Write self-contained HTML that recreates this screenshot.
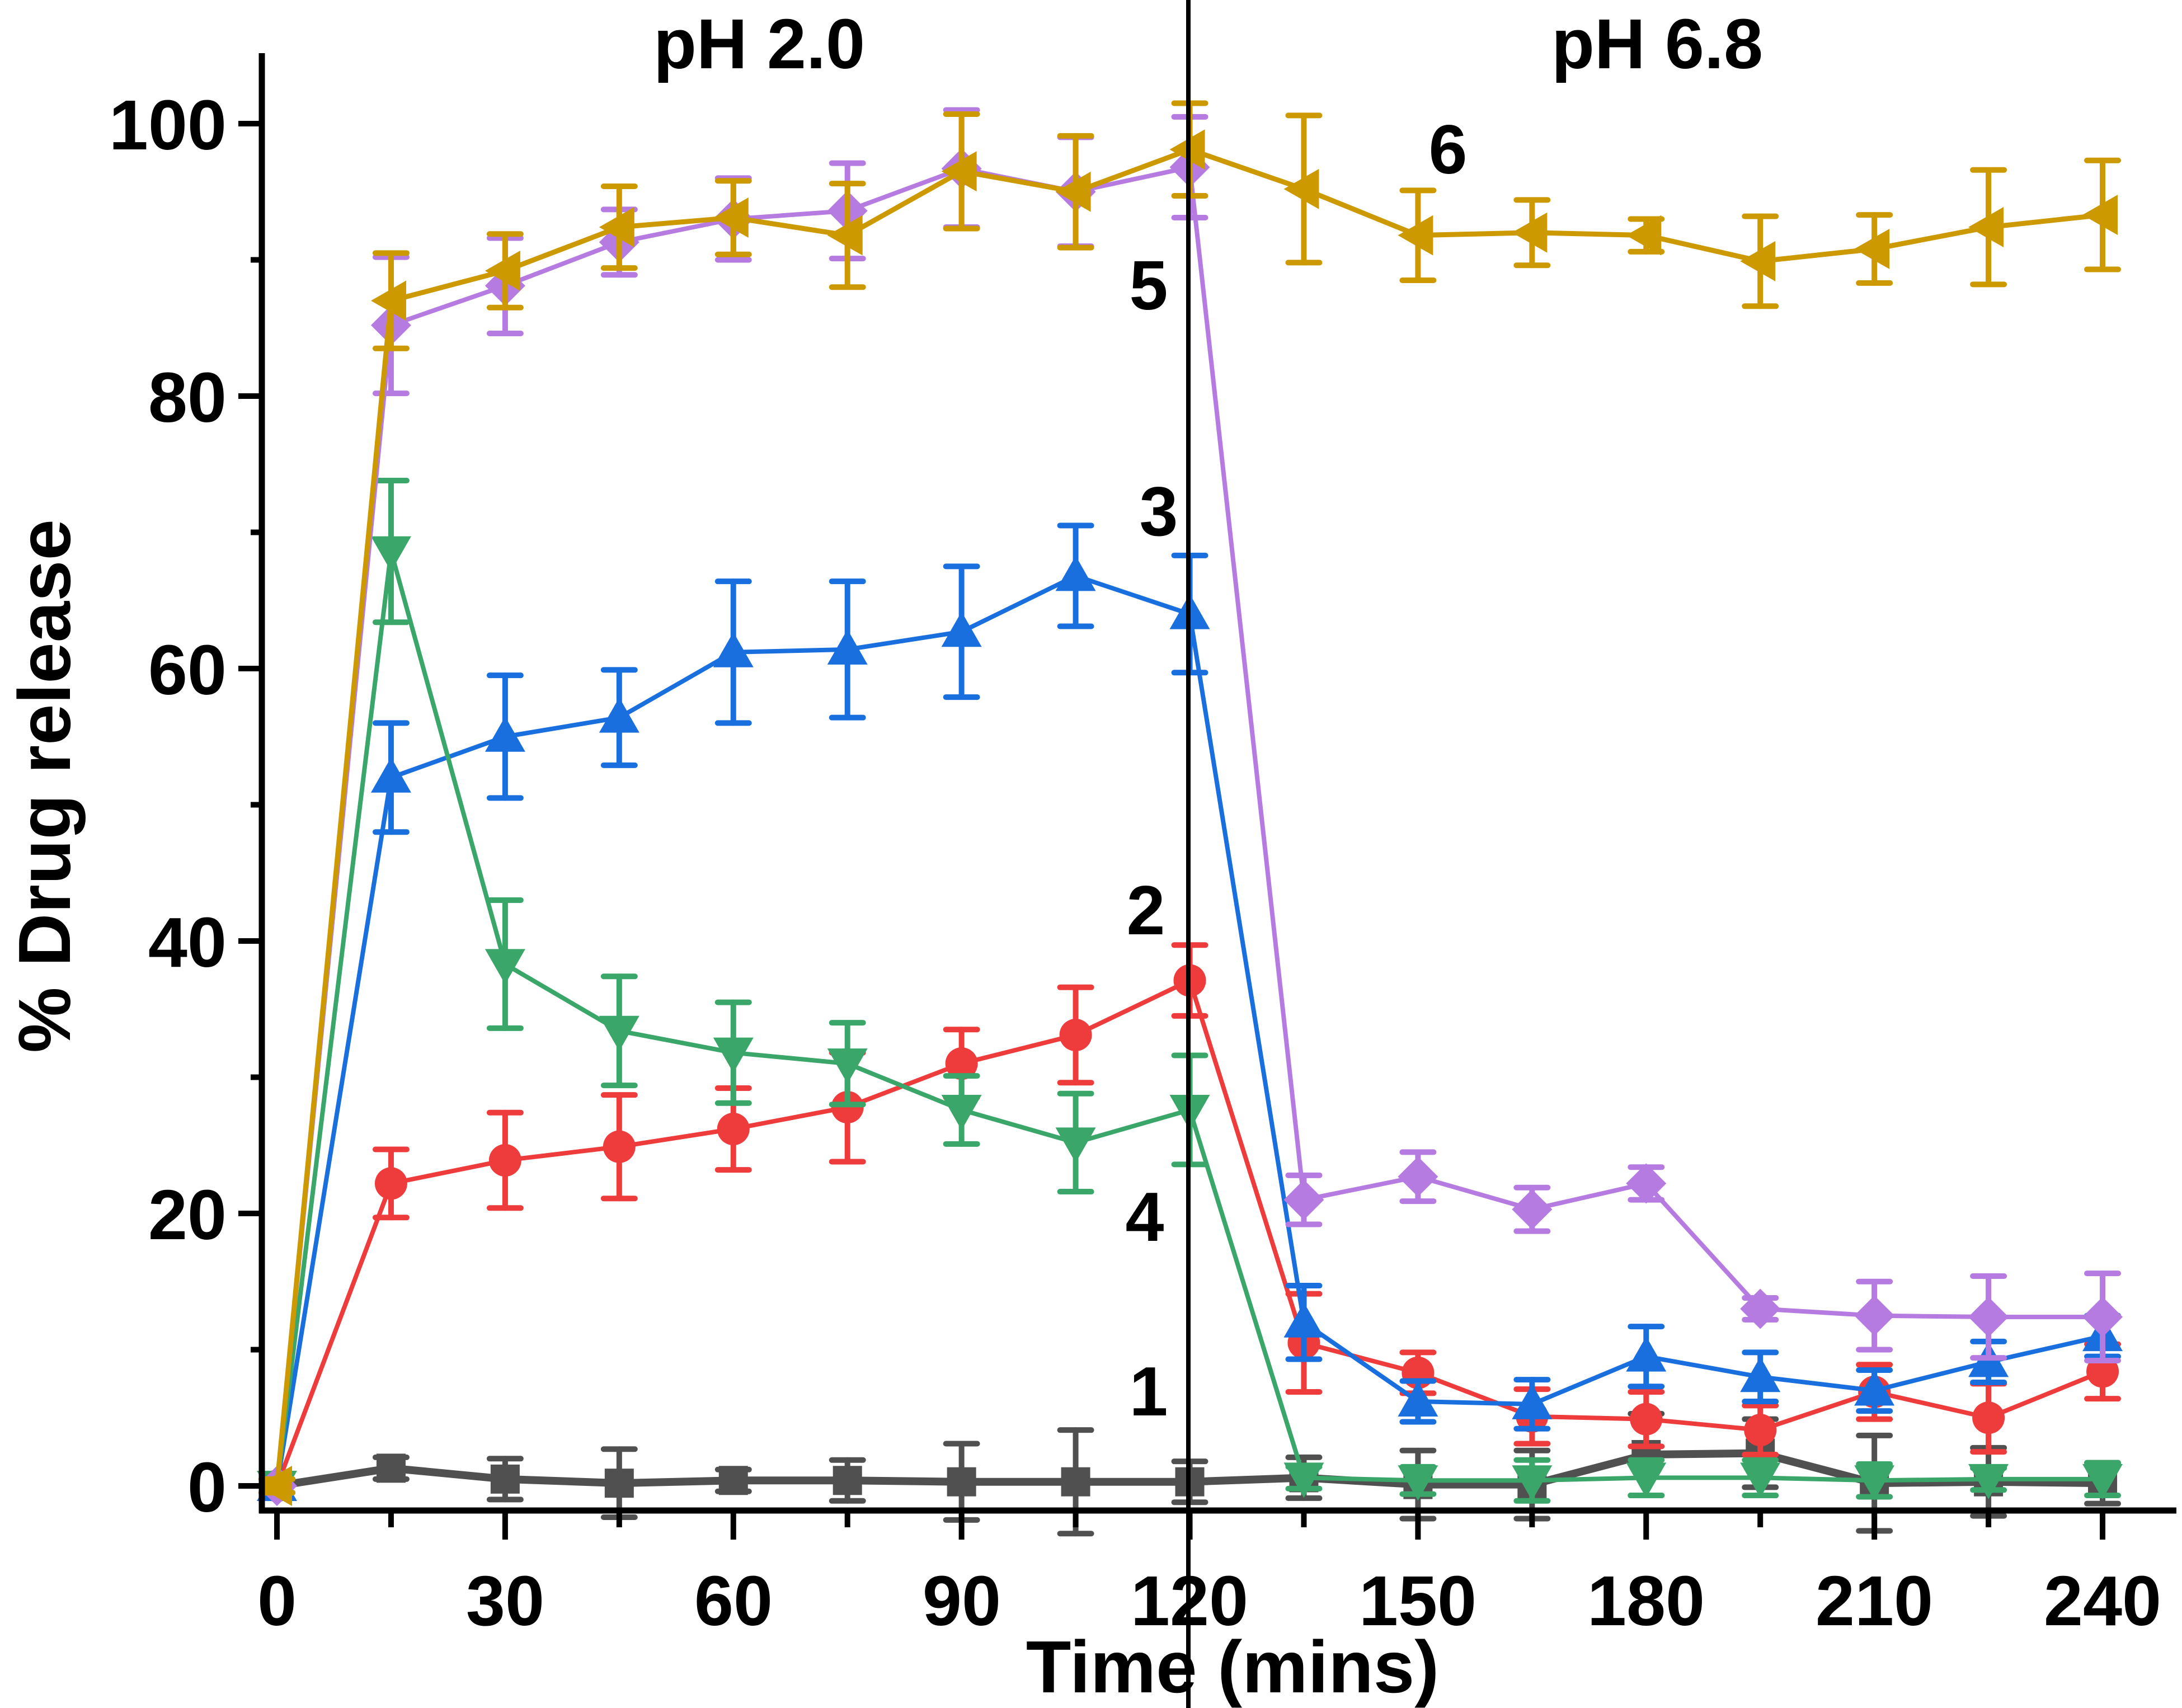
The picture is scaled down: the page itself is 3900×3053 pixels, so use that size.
<!DOCTYPE html>
<html><head><meta charset="utf-8"><style>
html,body{margin:0;padding:0;background:#fff}
svg{display:block}
text{font-family:"Liberation Sans",Arial,sans-serif;font-weight:bold;fill:#000}
</style></head><body>
<svg id="s" width="3900" height="3053" viewBox="0 0 3900 3053" xmlns="http://www.w3.org/2000/svg">
<g id="data"></g>
<g stroke="#000" stroke-width="11" fill="none">
<line x1="468" y1="95" x2="468" y2="2705"/>
<line x1="463" y1="2700" x2="3890" y2="2700"/>
<line x1="2124" y1="0" x2="2124" y2="3053" stroke-width="8"/>
</g>
<g id="ticks" stroke="#000" stroke-width="10"></g>
<g font-size="126" text-anchor="end">
<text x="405" y="2702">0</text>
<text x="405" y="2215">20</text>
<text x="405" y="1728">40</text>
<text x="405" y="1241">60</text>
<text x="405" y="754">80</text>
<text x="405" y="267">100</text>
</g>
<g font-size="126" text-anchor="middle">
<text x="495" y="2905">0</text>
<text x="903" y="2905">30</text>
<text x="1311" y="2905">60</text>
<text x="1719" y="2905">90</text>
<text x="2126" y="2905">120</text>
<text x="2534" y="2905">150</text>
<text x="2942" y="2905">180</text>
<text x="3350" y="2905">210</text>
<text x="3758" y="2905">240</text>
</g>
<text x="2203" y="3025" font-size="132" text-anchor="middle">Time (mins)</text>
<text transform="translate(125,1405) rotate(-90)" font-size="132" text-anchor="middle">% Drug release</text>
<text x="1357" y="122" font-size="126" text-anchor="middle">pH 2.0</text>
<text x="2962" y="122" font-size="126" text-anchor="middle">pH 6.8</text>
<g font-size="124" text-anchor="middle">
<text x="2053" y="2530">1</text>
<text x="2048" y="1670">2</text>
<text x="2071" y="957">3</text>
<text x="2046" y="2218">4</text>
<text x="2053" y="553">5</text>
<text x="2588" y="310">6</text>
</g>
</svg>
<script>
const X=t=>495+t*13.596, Y=v=>2656-v*24.35;
const NS="http://www.w3.org/2000/svg";
const tk=document.getElementById("ticks");
function ln(g,a,b,c,d){const l=document.createElementNS(NS,"line");l.setAttribute("x1",a);l.setAttribute("y1",b);l.setAttribute("x2",c);l.setAttribute("y2",d);g.appendChild(l);}
for(let v=0;v<=100;v+=10){ln(tk,v%20?448:426,Y(v),468,Y(v));}
for(let t=0;t<=240;t+=15){ln(tk,X(t),2700,X(t),t%30?2730:2752);}
const T=[0,15,30,45,60,75,90,105,120,135,150,165,180,195,210,225,240];
const S=[
{c:"#505050",m:"sq",w:14,v:[0,1.3,0.5,0.2,0.4,0.4,0.3,0.3,0.3,0.6,0.1,0.1,2.3,2.4,0.2,0.3,0.2],e:[0.5,0.8,1.5,2.5,0.8,1.5,2.8,3.8,1.5,1.5,2.5,2.5,3,2.5,3.5,2.5,1.5]},
{c:"#ee3b3b",m:"ci",w:8,v:[0,22.2,23.9,24.9,26.2,27.8,31,33.1,37.1,10.5,8.3,5.1,4.9,4.1,6.9,5,8.4],e:[0.5,2.5,3.5,3.8,3,4,2.5,3.5,2.6,3.6,1.5,2,2,1.8,2,2.5,2]},
{c:"#1a6fdf",m:"tu",w:8,v:[0,52,55,56.4,61.2,61.4,62.7,66.8,64,12,6.2,6,9.5,8,7,9.1,11],e:[0.5,4,4.5,3.5,5.2,5,4.8,3.7,4.3,2.7,1.5,1.8,2.2,1.8,1.5,1.5,1.5]},
{c:"#3aa66a",m:"td",w:8,v:[0,68.6,38.3,33.4,31.8,31,27.6,25.2,27.6,0.6,0.4,0.4,0.6,0.6,0.4,0.5,0.5],e:[0.5,5.2,4.7,4,3.7,3,2.5,3.6,4,0.8,1,1.5,1.3,1.3,1.2,0.8,1.2]},
{c:"#b57be0",m:"di",w:8,v:[0,85.2,88.1,91.3,93,93.6,96.7,95,96.8,21,22.7,20.3,22.2,13,12.5,12.4,12.4],e:[0.5,5,3.5,2.4,3,3.5,4.3,4,3.7,1.8,1.8,1.6,1.2,0.8,2.5,3,3.2]},
{c:"#cc9900",m:"tl",w:9,v:[0,87,89.2,92.4,93.1,91.8,96.5,95,98.1,95.2,91.8,92,91.8,89.9,90.8,92.4,93.3],e:[0.5,3.5,2.7,3,2.7,3.8,4.2,4.1,3.4,5.4,3.3,2.4,1.2,3.3,2.5,4.2,4]}
];
const g=document.getElementById("data");
S.forEach(s=>{
 const sg=document.createElementNS(NS,"g");g.appendChild(sg);
 const p=document.createElementNS(NS,"polyline");
 p.setAttribute("points",T.map((t,i)=>X(t)+","+Y(s.v[i])).join(" "));
 p.setAttribute("fill","none");p.setAttribute("stroke",s.c);p.setAttribute("stroke-width",s.w);p.setAttribute("stroke-linejoin","round");
 sg.appendChild(p);
 const eb=document.createElementNS(NS,"g");eb.setAttribute("stroke",s.c);eb.setAttribute("stroke-width","10");eb.setAttribute("stroke-linecap","round");sg.appendChild(eb);
 T.forEach((t,i)=>{const x=X(t),y1=Y(s.v[i]+s.e[i]),y2=Y(s.v[i]-s.e[i]);
  ln(eb,x,y1,x,y2);ln(eb,x-28,y1,x+28,y1);ln(eb,x-28,y2,x+28,y2);});
 T.forEach((t,i)=>{const x=X(t),y=Y(s.v[i]);let e;const r=36;
  if(s.m=="ci"){e=document.createElementNS(NS,"circle");e.setAttribute("cx",x);e.setAttribute("cy",y);e.setAttribute("r",29);}
  else if(s.m=="sq"){e=document.createElementNS(NS,"rect");e.setAttribute("x",x-26);e.setAttribute("y",y-26);e.setAttribute("width",52);e.setAttribute("height",52);}
  else{e=document.createElementNS(NS,"polygon");let pts;
   if(s.m=="tu")pts=[[0,-r],[r,r*0.75],[-r,r*0.75]];
   if(s.m=="td")pts=[[0,r],[r,-r*0.75],[-r,-r*0.75]];
   if(s.m=="tl")pts=[[-r,0],[r*0.75,-r],[r*0.75,r]];
   if(s.m=="di")pts=[[0,-r],[r,0],[0,r],[-r,0]];
   e.setAttribute("points",pts.map(q=>(x+q[0])+","+(y+q[1])).join(" "));}
  e.setAttribute("fill",s.c);sg.appendChild(e);});
});
</script>
</body></html>
